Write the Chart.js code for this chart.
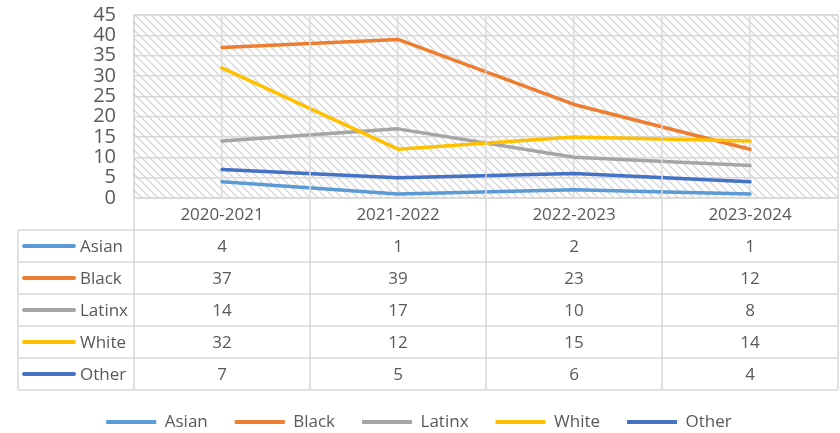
<!DOCTYPE html>
<html><head><meta charset="utf-8">
<script src="https://cdn.jsdelivr.net/npm/chart.js@4"></script>
<style>html,body{margin:0;padding:0;background:#fff}#wrap{width:840px;height:433px;position:relative}</style>
</head><body><div id="wrap"><canvas id="c" width="840" height="433"></canvas></div>
<script>
const categories = ['2020-2021', '2021-2022', '2022-2023', '2023-2024'];
const seriesNames = ['Asian', 'Black', 'Latinx', 'White', 'Other'];
const asian = [4, 1, 2, 1];
const black = [37, 39, 23, 12];
const latinx = [14, 17, 10, 8];
const white = [32, 12, 15, 14];
const other = [7, 5, 6, 4];
const seriesColors = ['#5B9BD5', '#ED7D31', '#A5A5A5', '#FFC000', '#4472C4'];
const yMin = 0, yMax = 45, yStep = 5;

const seriesValues = [asian, black, latinx, white, other];
const FONT = "'Open Sans', 'Liberation Sans', sans-serif";
const TEXT = '#595959';
const GRID = '#d9d9d9';

function makeHatch(ctx) {
  const c = document.createElement('canvas');
  c.width = 8; c.height = 8;
  const g = c.getContext('2d');
  g.strokeStyle = '#d6d6d6';
  g.lineWidth = 1.3;
  g.beginPath();
  g.moveTo(-2, -2); g.lineTo(10, 10);
  g.moveTo(-2, 6); g.lineTo(2, 10);
  g.moveTo(6, -2); g.lineTo(10, 2);
  g.stroke();
  return ctx.createPattern(c, 'repeat');
}

const hatchPlugin = {
  id: 'hatch',
  beforeDraw(chart) {
    const {ctx, chartArea: a} = chart;
    ctx.save();
    ctx.fillStyle = makeHatch(ctx);
    ctx.fillRect(a.left, a.top, a.right - a.left, a.bottom - a.top);
    ctx.restore();
  }
};

const HEADER_H = 32, ROW_H = 32, TABLE_LEFT = 18;

const tablePlugin = {
  id: 'dataTable',
  afterLayout(chart) {
    const lg = chart.legend;
    if (lg) { lg.top += 7.5; lg.bottom += 7.5; }
  },
  afterDraw(chart) {
    const {ctx, chartArea: a} = chart;
    const xs = chart.scales.x;
    const n = categories.length;
    const step = xs.getPixelForValue(1) - xs.getPixelForValue(0);
    const rowsTop = a.bottom + HEADER_H;
    const tableBottom = rowsTop + ROW_H * seriesNames.length;
    ctx.save();
    ctx.strokeStyle = GRID;
    ctx.lineWidth = 1.5;
    ctx.beginPath();
    for (let i = 0; i <= n; i++) {
      const xb = xs.getPixelForValue(0) - step / 2 + i * step;
      ctx.moveTo(xb, a.top);
      ctx.lineTo(xb, tableBottom);
    }
    ctx.moveTo(a.left, a.top); ctx.lineTo(a.right, a.top);
    ctx.moveTo(a.left, a.bottom); ctx.lineTo(a.right, a.bottom);
    for (let r = 0; r <= seriesNames.length; r++) {
      const y = rowsTop + r * ROW_H;
      ctx.moveTo(TABLE_LEFT, y); ctx.lineTo(a.right, y);
    }
    ctx.moveTo(TABLE_LEFT, rowsTop); ctx.lineTo(TABLE_LEFT, tableBottom);
    ctx.stroke();

    ctx.font = '17px ' + FONT;
    ctx.textBaseline = 'middle';
    seriesNames.forEach((name, r) => {
      const cy = rowsTop + r * ROW_H + ROW_H / 2;
      ctx.strokeStyle = seriesColors[r];
      ctx.lineWidth = 4;
      ctx.lineCap = 'round';
      ctx.beginPath();
      ctx.moveTo(TABLE_LEFT + 6, cy); ctx.lineTo(TABLE_LEFT + 56, cy);
      ctx.stroke();
      ctx.fillStyle = TEXT;
      ctx.textAlign = 'left';
      ctx.fillText(name, TABLE_LEFT + 62, cy + 1);
      ctx.textAlign = 'center';
      seriesValues[r].forEach((v, i) => {
        ctx.fillText(String(v), xs.getPixelForValue(i), cy + 1);
      });
    });
    ctx.restore();
  }
};

new Chart(document.getElementById('c'), {
  type: 'line',
  data: {
    labels: categories,
    datasets: seriesNames.map((name, i) => ({
      label: name,
      data: seriesValues[i],
      order: seriesNames.length - i,
      borderColor: seriesColors[i],
      backgroundColor: seriesColors[i],
      borderWidth: 3.5,
      pointRadius: 0,
      tension: 0,
      borderCapStyle: 'round',
      borderJoinStyle: 'round',
      fill: false
    }))
  },
  options: {
    responsive: false,
    animation: false,
    devicePixelRatio: 1,
    layout: {padding: {left: 0, right: 2, top: 15, bottom: 0}},
    plugins: {
      tooltip: {enabled: false},
      legend: {
        position: 'bottom',
        labels: {
          boxWidth: 50,
          boxHeight: 4,
          padding: 27,
          color: TEXT,
          font: {family: FONT, size: 17},
          sort: (a, b) => a.datasetIndex - b.datasetIndex,
          generateLabels(chart) {
            return Chart.defaults.plugins.legend.labels.generateLabels(chart).map(l => Object.assign(l, {lineWidth: 0}));
          }
        }
      }
    },
    scales: {
      x: {
        type: 'category',
        offset: true,
        grid: {offset: false, color: GRID, lineWidth: 1.5, drawTicks: false},
        border: {color: GRID, width: 1.5},
        ticks: {color: TEXT, font: {family: FONT, size: 17}, padding: 7, maxRotation: 0},
        afterFit(s) { s.height = 181; }
      },
      y: {
        min: yMin, max: yMax,
        grid: {color: GRID, lineWidth: 1.5, drawTicks: false},
        border: {color: GRID, width: 1.5},
        ticks: {stepSize: yStep, autoSkip: false, color: TEXT, font: {family: FONT, size: 20}, padding: 18},
        afterFit(s) { s.width = 134; s.paddingTop = 0; s.paddingBottom = 0; }
      }
    }
  },
  plugins: [hatchPlugin, tablePlugin]
});
</script>
</body></html>
